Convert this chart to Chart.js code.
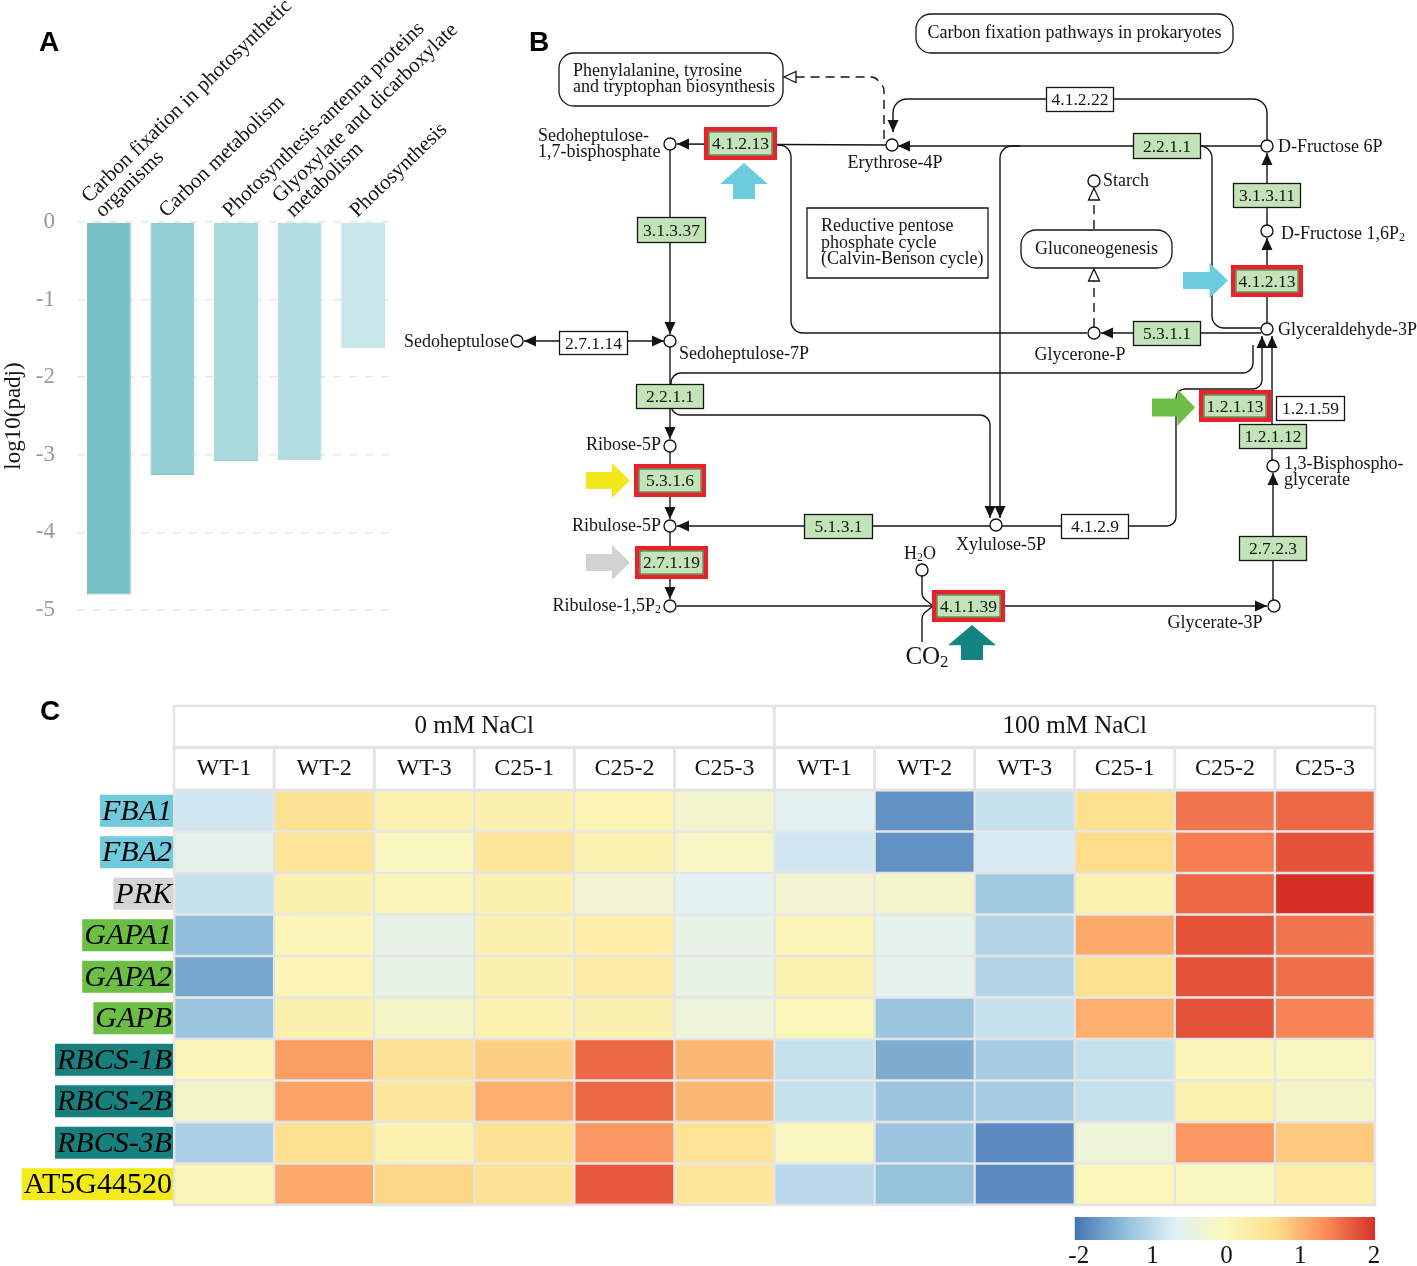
<!DOCTYPE html>
<html>
<head>
<meta charset="utf-8">
<script src="https://cdn.jsdelivr.net/npm/chart.js@4.4.1/dist/chart.umd.min.js"></script>
<style>
  html, body { margin: 0; padding: 0; background: #fff; }
  #wrap { position: relative; width: 1417px; height: 1266px; overflow: hidden; }
  canvas { position: absolute; }
  .tag { position: absolute; font: bold 28px "Liberation Sans", Arial, sans-serif; color: #000; }
</style>
</head>
<body>
<div id="wrap">
  <canvas id="chartA" width="470" height="660" style="left:0;top:0"></canvas>
  <canvas id="chartB" width="1017" height="690" style="left:400px;top:0"></canvas>
  <canvas id="chartC" width="1417" height="576" style="left:0;top:690px"></canvas>
  <div class="tag" style="left:39px;top:26px">A</div>
  <div class="tag" style="left:529px;top:26px">B</div>
  <div class="tag" style="left:40px;top:695px">C</div>
</div>
<script>
// ---------- Panel A data ----------
const pathwayTerms = [
  ['Carbon fixation in photosynthetic', 'organisms'],
  ['Carbon metabolism'],
  ['Photosynthesis-antenna proteins'],
  ['Glyoxylate and dicarboxylate', 'metabolism'],
  ['Photosynthesis']
];
const log10Padj = [-4.8, -3.26, -3.08, -3.07, -1.63];
const yTicksA = [0, -1, -2, -3, -4, -5];

// ---------- Panel C data ----------
const genes = ['FBA1', 'FBA2', 'PRK', 'GAPA1', 'GAPA2', 'GAPB', 'RBCS-1B', 'RBCS-2B', 'RBCS-3B', 'AT5G44520'];
const conditions = ['0 mM NaCl', '100 mM NaCl'];
const samples = ['WT-1', 'WT-2', 'WT-3', 'C25-1', 'C25-2', 'C25-3'];
// z-scores per gene, 0 mM (6) then 100 mM (6)
const zFBA1   = [-0.80, 0.60, 0.15, 0.20, 0.10, -0.20, -0.60, -1.75, -0.90, 0.65, 1.50, 1.60];
const zFBA2   = [-0.55, 0.55, -0.05, 0.50, 0.15, -0.10, -0.80, -1.75, -0.75, 0.70, 1.45, 1.75];
const zPRK    = [-0.90, 0.20, 0.05, 0.20, -0.25, -0.60, -0.25, -0.20, -1.20, 0.15, 1.60, 2.00];
const zGAPA1  = [-1.33, 0.05, -0.50, 0.20, 0.30, -0.50, 0.05, -0.55, -1.05, 1.10, 1.75, 1.50];
const zGAPA2  = [-1.55, 0.10, -0.50, 0.20, 0.35, -0.50, 0.15, -0.55, -1.05, 0.65, 1.75, 1.55];
const zGAPB   = [-1.25, 0.20, -0.15, 0.15, 0.20, -0.35, 0.00, -1.25, -0.90, 1.05, 1.75, 1.40];
const zRBCS1B = [0.05, 1.20, 0.60, 0.80, 1.60, 1.00, -0.90, -1.50, -1.15, -0.90, 0.05, -0.05];
const zRBCS2B = [-0.15, 1.15, 0.45, 1.05, 1.60, 1.00, -0.90, -1.25, -1.15, -0.90, 0.15, -0.15];
const zRBCS3B = [-1.10, 0.65, 0.15, 0.60, 1.25, 0.55, -0.05, -1.25, -1.80, -0.35, 1.25, 0.85];
const zAT5G   = [0.05, 1.10, 0.75, 0.60, 1.70, 0.50, -1.00, -1.30, -1.80, 0.00, -0.05, 0.30];
const zRows = [zFBA1, zFBA2, zPRK, zGAPA1, zGAPA2, zGAPB, zRBCS1B, zRBCS2B, zRBCS3B, zAT5G];
const colorbarTicks = ['-2', '1', '0', '1', '2'];

const SERIF = '"Liberation Serif", "Times New Roman", serif';
const INK = '#141414';

// ================= Panel A: bar chart =================
const barFills = ['#74c0c5', '#92cdd1', '#a8d9dc', '#b3dee1', '#c6e7ea'];
const barEdges = ['#68b8bd', '#83c4c9', '#98d0d4', '#a3d5d9', '#b3dde1'];

const termLabels = {
  id: 'termLabels',
  afterDraw(chart) {
    const { ctx, scales: { x } } = chart;
    ctx.save();
    ctx.font = '21px ' + SERIF;
    ctx.fillStyle = INK;
    ctx.textAlign = 'left';
    pathwayTerms.forEach((lines, i) => {
      ctx.save();
      ctx.translate(x.getPixelForValue(i) - 6, 218);
      ctx.rotate(-44 * Math.PI / 180);
      lines.forEach((t, k) => ctx.fillText(t, 0, -(lines.length - 1 - k) * 20));
      ctx.restore();
    });
    ctx.restore();
  }
};

new Chart(document.getElementById('chartA'), {
  type: 'bar',
  data: {
    labels: pathwayTerms.map(l => l.join(' ')),
    datasets: [{
      data: log10Padj,
      backgroundColor: barFills,
      borderColor: barEdges,
      borderWidth: 1,
      barPercentage: 0.69,
      categoryPercentage: 1
    }]
  },
  options: {
    responsive: false,
    animation: false,
    events: [],
    layout: { padding: { left: 0, right: 75, top: 222, bottom: 50 } },
    plugins: { legend: { display: false }, tooltip: { enabled: false } },
    scales: {
      x: { display: false },
      y: {
        min: -5, max: 0,
        afterFit(s) { s.width = 77; },
        afterBuildTicks(s) { s.ticks = yTicksA.map(v => ({ value: v })); },
        border: { display: false, dash: [8, 8] },
        grid: { color: '#e6e6e6', lineWidth: 1.5, drawTicks: false },
        ticks: { color: '#9a9a9a', font: { family: SERIF, size: 23 }, padding: 22 },
        title: { display: true, text: 'log10(padj)', color: INK, font: { family: SERIF, size: 23 }, padding: 0 }
      }
    }
  },
  plugins: [termLabels]
});

// ================= Panel B: pathway map =================
// metabolite nodes (map coordinates) and their label placement
const metabolites = [
  { name: 'Sedoheptulose-|1,7-bisphosphate', x: 670, y: 144, lx: 538, ly: 136, align: 'left' },
  { name: 'Erythrose-4P', x: 892, y: 145, lx: 895, ly: 163, align: 'center' },
  { name: 'D-Fructose 6P', x: 1267, y: 146, lx: 1278, ly: 147, align: 'left' },
  { name: 'Starch', x: 1094, y: 181, lx: 1103, ly: 181, align: 'left' },
  { name: 'D-Fructose 1,6P_2', x: 1267, y: 231, lx: 1281, ly: 234, align: 'left' },
  { name: 'Glyceraldehyde-3P', x: 1267, y: 329, lx: 1278, ly: 330, align: 'left' },
  { name: 'Glycerone-P', x: 1094, y: 333, lx: 1080, ly: 355, align: 'center' },
  { name: 'Sedoheptulose-7P', x: 670, y: 341, lx: 679, ly: 354, align: 'left' },
  { name: 'Sedoheptulose', x: 517, y: 341, lx: 509, ly: 342, align: 'right' },
  { name: 'Ribose-5P', x: 670, y: 446, lx: 661, ly: 445, align: 'right' },
  { name: 'Ribulose-5P', x: 670, y: 526, lx: 661, ly: 526, align: 'right' },
  { name: 'Ribulose-1,5P_2', x: 670, y: 606, lx: 661, ly: 606, align: 'right' },
  { name: 'Xylulose-5P', x: 996, y: 525, lx: 1001, ly: 545, align: 'center' },
  { name: 'H_2O', x: 922, y: 570, lx: 920, ly: 554, align: 'center' },
  { name: '1,3-Bisphospho-|glycerate', x: 1273, y: 466, lx: 1284, ly: 464, align: 'left' },
  { name: 'Glycerate-3P', x: 1274, y: 606, lx: 1215, ly: 623, align: 'center' }
];
// enzyme boxes: kind g = found (green), w = not found, r = highlighted
const enzymes = [
  ['4.1.2.13', 704, 127, 777, 160, 'r'], ['3.1.3.37', 637, 217, 706, 243, 'g'],
  ['2.7.1.14', 559, 331, 628, 355, 'w'], ['2.2.1.1', 636, 384, 704, 409, 'g'],
  ['5.3.1.6', 634, 464, 706, 497, 'r'], ['2.7.1.19', 635, 546, 708, 579, 'r'],
  ['5.1.3.1', 804, 514, 873, 539, 'g'], ['4.1.2.9', 1061, 514, 1129, 539, 'w'],
  ['4.1.1.39', 932, 590, 1005, 622, 'r'], ['4.1.2.22', 1046, 87, 1114, 112, 'w'],
  ['2.2.1.1', 1133, 133, 1201, 159, 'g'], ['3.1.3.11', 1233, 183, 1301, 208, 'g'],
  ['4.1.2.13', 1231, 265, 1303, 297, 'r'], ['5.3.1.1', 1133, 321, 1201, 346, 'g'],
  ['1.2.1.13', 1199, 390, 1271, 422, 'r'], ['1.2.1.59', 1276, 396, 1345, 421, 'w'],
  ['1.2.1.12', 1239, 424, 1307, 449, 'g'], ['2.7.2.3', 1239, 536, 1307, 561, 'g']
];
// reaction lines: points, arrow at end / start, dashed, corner radius
const links = [
  { p: [[1261, 146], [898, 146]], end: 1 },
  { p: [[886, 145], [677, 144]], end: 1 },
  { p: [[777, 145], [791, 145], [791, 333], [1087, 333]], r: 12 },
  { p: [[670, 150], [670, 334]], end: 1 },
  { p: [[664, 341], [524, 341]], end: 1, start: 1 },
  { p: [[670, 347], [670, 439]], end: 1 },
  { p: [[671, 386], [671, 373], [1253, 373], [1253, 345]], r: 10 },
  { p: [[671, 406], [671, 415], [990, 415], [990, 518]], r: 10, end: 1 },
  { p: [[1020, 146], [1000, 146], [1000, 518]], r: 12, end: 1 },
  { p: [[670, 452], [670, 519]], end: 1 },
  { p: [[990, 526], [677, 526]], end: 1 },
  { p: [[670, 532], [670, 599]], end: 1 },
  { p: [[677, 606], [1267, 606]], end: 1 },
  { p: [[922, 576], [922, 597], [933, 606]], r: 9 },
  { p: [[922, 642], [922, 615], [933, 606]], r: 9 },
  { p: [[1273, 600], [1273, 473]], end: 1 },
  { p: [[1272, 460], [1272, 336]], end: 1 },
  { p: [[1002, 526], [1176, 526], [1176, 389], [1262, 389], [1262, 336]], r: 9, end: 1 },
  { p: [[1267, 323], [1267, 238]], end: 1 },
  { p: [[1267, 225], [1267, 153]], end: 1 },
  { p: [[1267, 140], [1267, 99], [893, 99], [893, 132]], r: 14, end: 1 },
  { p: [[1195, 146], [1212, 146], [1212, 328], [1261, 328]], r: 12 },
  { p: [[1261, 333], [1101, 333]], end: 1 },
  { p: [[1094, 327], [1094, 269]], end: 1, dash: 1 },
  { p: [[1094, 229], [1094, 188]], end: 1, dash: 1 },
  { p: [[884, 139], [884, 87], [875, 77], [784, 77]], r: 9, end: 1, dash: 1 }
];
// map boxes: [text lines, x0, y0, x1, y1, rounded, text x or null for centred]
const mapBoxes = [
  [['Carbon fixation pathways in prokaryotes'], 916, 14, 1233, 53, true, null],
  [['Phenylalanine, tyrosine', 'and tryptophan biosynthesis'], 559, 53, 783, 106, true, 573],
  [['Reductive pentose', 'phosphate cycle', '(Calvin-Benson cycle)'], 807, 208, 988, 278, false, 821],
  [['Gluconeogenesis'], 1021, 230, 1172, 268, true, null]
];
// coloured marker arrows: [x0, y0, x1, y1, direction, colour]
const markers = [
  [720, 163, 768, 199, 'up', '#6ccbdf'],
  [1183, 263, 1228, 298, 'right', '#6ccbdf'],
  [1152, 389, 1195, 426, 'right', '#6cbf44'],
  [586, 463, 630, 498, 'right', '#f1e91b'],
  [586, 545, 630, 580, 'right', '#d2d2d2'],
  [948, 625, 996, 660, 'up', '#138481']
];

function roundPath(ctx, pts, r) {
  ctx.beginPath();
  ctx.moveTo(pts[0][0], pts[0][1]);
  for (let i = 1; i < pts.length - 1; i++) ctx.arcTo(pts[i][0], pts[i][1], pts[i + 1][0], pts[i + 1][1], r || 0);
  ctx.lineTo(pts[pts.length - 1][0], pts[pts.length - 1][1]);
  ctx.stroke();
}
function arrowHead(ctx, from, tip, open) {
  const a = Math.atan2(tip[1] - from[1], tip[0] - from[0]);
  ctx.save();
  ctx.setLineDash([]);
  ctx.translate(tip[0], tip[1]);
  ctx.rotate(a);
  ctx.beginPath();
  ctx.moveTo(0, 0); ctx.lineTo(-12, -5.5); ctx.lineTo(-12, 5.5); ctx.closePath();
  if (open) { ctx.fillStyle = '#fff'; ctx.fill(); ctx.lineWidth = 1.3; ctx.stroke(); }
  else { ctx.fillStyle = INK; ctx.fill(); }
  ctx.restore();
}
function subText(ctx, str, x, y, size, align) {
  // '_' marks the next character as subscript
  const parts = [];
  for (let i = 0; i < str.length; i++) {
    if (str[i] === '_') { parts.push([str[i + 1], true]); i++; } else parts.push([str[i], false]);
  }
  const big = size + 'px ' + SERIF, small = Math.round(size * 0.68) + 'px ' + SERIF;
  let w = 0;
  parts.forEach(([c, s]) => { ctx.font = s ? small : big; w += ctx.measureText(c).width; });
  let cx = align === 'left' ? x : align === 'right' ? x - w : x - w / 2;
  ctx.textAlign = 'left';
  parts.forEach(([c, s]) => {
    ctx.font = s ? small : big;
    ctx.fillText(c, cx, s ? y + size * 0.22 : y);
    cx += ctx.measureText(c).width;
  });
}
function roundRect(ctx, x0, y0, x1, y1, r) {
  ctx.beginPath();
  ctx.moveTo(x0 + r, y0);
  ctx.arcTo(x1, y0, x1, y1, r); ctx.arcTo(x1, y1, x0, y1, r);
  ctx.arcTo(x0, y1, x0, y0, r); ctx.arcTo(x0, y0, x1, y0, r);
  ctx.closePath();
}

const pathwayPlugin = {
  id: 'pathway',
  beforeDatasetsDraw(chart) {
    const { ctx, scales: { x, y } } = chart;
    const P = q => [x.getPixelForValue(q[0]), y.getPixelForValue(q[1])];
    ctx.save();
    ctx.strokeStyle = INK;
    ctx.lineWidth = 1.4;
    links.forEach(l => {
      const pts = l.p.map(P);
      ctx.setLineDash(l.dash ? [9, 6] : []);
      roundPath(ctx, pts, l.r);
      if (l.end) arrowHead(ctx, pts[pts.length - 2], pts[pts.length - 1], l.dash);
      if (l.start) arrowHead(ctx, pts[1], pts[0], l.dash);
    });
    ctx.restore();
  },
  afterDatasetsDraw(chart) {
    const { ctx, scales: { x, y } } = chart;
    const X = v => x.getPixelForValue(v), Y = v => y.getPixelForValue(v);
    ctx.save();
    ctx.textBaseline = 'middle';
    ctx.fillStyle = INK;
    // enzyme boxes
    enzymes.forEach(([t, x0, y0, x1, y1, k]) => {
      const a = X(x0), b = Y(y0), c = X(x1), d = Y(y1);
      ctx.fillStyle = k === 'w' ? '#ffffff' : '#c3e4b8';
      ctx.fillRect(a, b, c - a, d - b);
      ctx.strokeStyle = INK; ctx.lineWidth = 1.3;
      if (k === 'r') {
        ctx.strokeStyle = '#e6222a'; ctx.lineWidth = 4.5;
        ctx.strokeRect(a + 2.2, b + 2.2, c - a - 4.4, d - b - 4.4);
        ctx.strokeStyle = '#3b6b3b'; ctx.lineWidth = 1;
        ctx.strokeRect(a + 5, b + 5, c - a - 10, d - b - 10);
      } else {
        ctx.strokeRect(a + 0.5, b + 0.5, c - a - 1, d - b - 1);
      }
      ctx.fillStyle = INK;
      ctx.font = '17.5px ' + SERIF;
      ctx.textAlign = 'center';
      ctx.fillText(t, (a + c) / 2, (b + d) / 2 + 1);
    });
    // map link boxes
    mapBoxes.forEach(([lines, x0, y0, x1, y1, rounded, tx]) => {
      const a = X(x0), b = Y(y0), c = X(x1), d = Y(y1);
      ctx.fillStyle = '#fff'; ctx.strokeStyle = INK; ctx.lineWidth = 1.3;
      if (rounded) roundRect(ctx, a, b, c, d, 15); else { ctx.beginPath(); ctx.rect(a, b, c - a, d - b); }
      ctx.fill(); ctx.stroke();
      ctx.fillStyle = INK;
      ctx.font = '18px ' + SERIF;
      ctx.textAlign = tx === null ? 'center' : 'left';
      const cx = tx === null ? (a + c) / 2 : X(tx);
      const lh = 16.5, top = (b + d) / 2 - (lines.length - 1) * lh / 2;
      lines.forEach((t, i) => ctx.fillText(t, cx, top + i * lh));
    });
    // metabolite labels
    ctx.fillStyle = INK;
    metabolites.forEach(m => {
      m.name.split('|').forEach((t, i) => subText(ctx, t, X(m.lx), Y(m.ly) + i * 16.5, 18, m.align));
    });
    // CO2
    subText(ctx, 'CO_2', X(927), Y(657), 25, 'center');
    // marker arrows
    markers.forEach(([x0, y0, x1, y1, dir, col]) => {
      const a = X(x0), b = Y(y0), c = X(x1), d = Y(y1), w = c - a, h = d - b;
      ctx.fillStyle = col;
      ctx.beginPath();
      if (dir === 'right') {
        const hx = a + w * 0.59;
        ctx.moveTo(a, b + h * 0.26); ctx.lineTo(hx, b + h * 0.26); ctx.lineTo(hx, b);
        ctx.lineTo(c, b + h / 2); ctx.lineTo(hx, d); ctx.lineTo(hx, d - h * 0.26);
        ctx.lineTo(a, d - h * 0.26);
      } else {
        const hy = b + h * 0.58;
        ctx.moveTo(a + w * 0.27, d); ctx.lineTo(a + w * 0.27, hy); ctx.lineTo(a, hy);
        ctx.lineTo(a + w / 2, b); ctx.lineTo(c, hy); ctx.lineTo(c - w * 0.27, hy);
        ctx.lineTo(c - w * 0.27, d);
      }
      ctx.closePath(); ctx.fill();
    });
    ctx.restore();
  }
};

new Chart(document.getElementById('chartB'), {
  type: 'scatter',
  data: {
    datasets: [{
      data: metabolites.map(m => ({ x: m.x, y: m.y })),
      pointRadius: 6,
      pointBackgroundColor: '#ffffff',
      pointBorderColor: INK,
      pointBorderWidth: 1.4,
      clip: false
    }]
  },
  options: {
    responsive: false,
    animation: false,
    events: [],
    layout: { padding: 0, autoPadding: false },
    plugins: { legend: { display: false }, tooltip: { enabled: false } },
    scales: {
      x: { type: 'linear', min: 400, max: 1417, display: false },
      y: { type: 'linear', min: 0, max: 690, reverse: true, display: false }
    }
  },
  plugins: [pathwayPlugin]
});

// ================= Panel C: heatmap =================
const paletteStops = ['#4575b4', '#91bfdb', '#e0f1f6', '#fbf7bb', '#fde08f', '#fb8d59', '#d73027'];
function hexRgb(h) { return [1, 3, 5].map(i => parseInt(h.slice(i, i + 2), 16)); }
function zColor(v) {
  const t = (Math.max(-2, Math.min(2, v)) + 2) / 4 * (paletteStops.length - 1);
  const i = Math.min(paletteStops.length - 2, Math.floor(t)), f = t - i;
  const a = hexRgb(paletteStops[i]), b = hexRgb(paletteStops[i + 1]);
  return 'rgb(' + a.map((c, k) => Math.round(c + (b[k] - c) * f)).join(',') + ')';
}
const geneTagColors = ['#6fcbdc', '#6fcbdc', '#d4d4d4', '#6cbf44', '#6cbf44', '#6cbf44', '#177f7d', '#177f7d', '#177f7d', '#f2ea1a'];
const allSamples = conditions.flatMap(() => samples);
const GRID = '#e4e4e4';

const heatmapFrame = {
  id: 'heatmapFrame',
  afterDraw(chart) {
    const { ctx, chartArea: ca, scales: { x, y } } = chart;
    ctx.save();
    ctx.textBaseline = 'middle';
    ctx.textAlign = 'center';
    // header rows
    const r1 = ca.top - 84, r2 = ca.top - 42;
    ctx.strokeStyle = GRID; ctx.lineWidth = 2.5;
    conditions.forEach((c, g) => {
      const a = x.getPixelForValue(g * 6), b = x.getPixelForValue(g * 6 + 6);
      ctx.fillStyle = '#fff'; ctx.fillRect(a, r1, b - a, 41);
      ctx.strokeRect(a, r1, b - a, 41);
      ctx.fillStyle = INK; ctx.font = '25px ' + SERIF;
      ctx.fillText(c, (a + b) / 2, r1 + 20);
    });
    allSamples.forEach((s, i) => {
      const a = x.getPixelForValue(i), b = x.getPixelForValue(i + 1);
      ctx.strokeRect(a, r2, b - a, 42);
      ctx.fillStyle = INK; ctx.font = '24px ' + SERIF;
      ctx.fillText(s, (a + b) / 2, r2 + 21);
    });
    ctx.strokeRect(ca.left, ca.top, ca.right - ca.left, ca.bottom - ca.top);
    // gene labels with tag colours
    genes.forEach((g, i) => {
      const cy = y.getPixelForValue(i);
      const italic = g !== 'AT5G44520';
      ctx.font = (italic ? 'italic ' : '') + '30px ' + SERIF;
      const w = ctx.measureText(g).width;
      ctx.fillStyle = geneTagColors[i];
      ctx.fillRect(ca.left - w - 4, cy - 16, w + 3, 32);
      ctx.fillStyle = '#000';
      ctx.textAlign = 'right';
      ctx.fillText(g, ca.left - 2, cy + 1);
    });
    // colour key
    const kx0 = x.getPixelForValue(9), kx1 = x.getPixelForValue(12), ky = ca.bottom + 12;
    const grad = ctx.createLinearGradient(kx0, 0, kx1, 0);
    paletteStops.forEach((c, i) => grad.addColorStop(i / (paletteStops.length - 1), c));
    ctx.fillStyle = grad;
    ctx.fillRect(kx0, ky, kx1 - kx0, 23);
    ctx.fillStyle = INK; ctx.font = '25px ' + SERIF; ctx.textAlign = 'center';
    colorbarTicks.forEach((t, i) => ctx.fillText(t, kx0 + 4 + (kx1 - kx0 - 5) * i / 4, ky + 39));
    ctx.restore();
  }
};

new Chart(document.getElementById('chartC'), {
  type: 'bar',
  data: {
    labels: genes,
    datasets: allSamples.map((s, col) => ({
      label: s,
      data: genes.map(() => 1),
      backgroundColor: zRows.map(row => zColor(row[col])),
      borderColor: GRID,
      borderWidth: 1.5,
      borderSkipped: false,
      barPercentage: 1,
      categoryPercentage: 1
    }))
  },
  options: {
    indexAxis: 'y',
    responsive: false,
    animation: false,
    events: [],
    layout: { padding: { left: 174, right: 42, top: 100, bottom: 61 } },
    plugins: { legend: { display: false }, tooltip: { enabled: false } },
    scales: {
      x: { stacked: true, min: 0, max: 12, display: false },
      y: { stacked: true, display: false }
    }
  },
  plugins: [heatmapFrame]
});
</script>
</body>
</html>
